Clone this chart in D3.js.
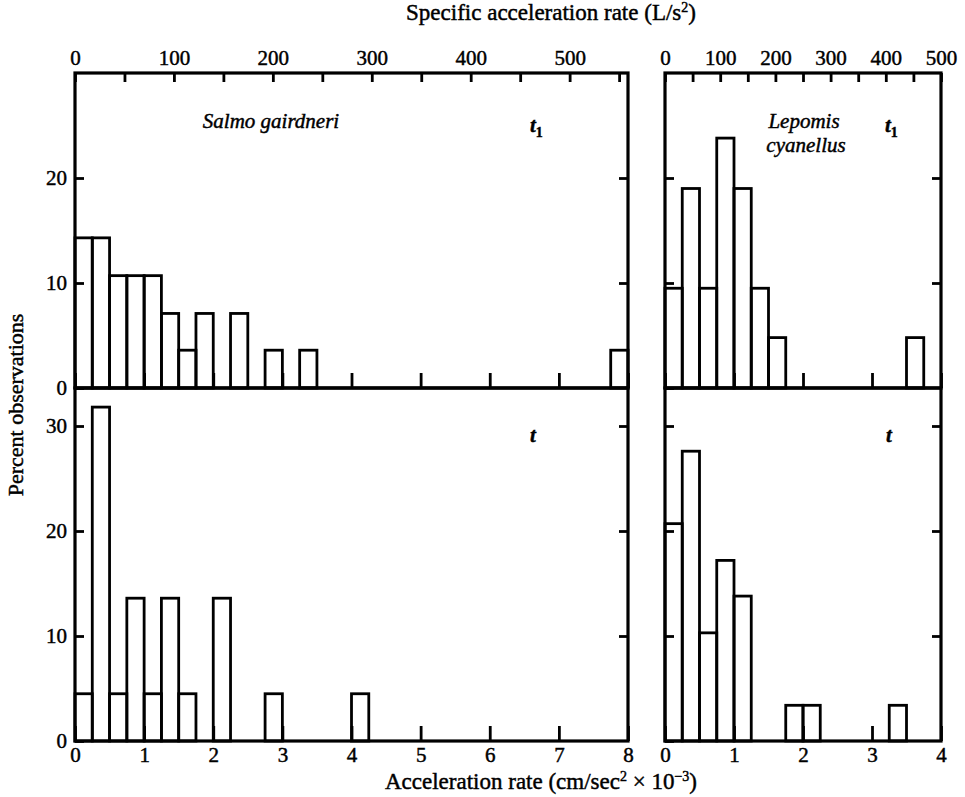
<!DOCTYPE html>
<html>
<head>
<meta charset="utf-8">
<script src="https://cdn.jsdelivr.net/npm/d3@7"></script>
<style>
  body { margin: 0; background: #fff; }
  text { font-family: "Liberation Serif", "Times New Roman", serif; fill: #000; stroke: #000; stroke-width: 0.45px; }
</style>
</head>
<body>
<svg id="chart" width="965" height="797"></svg>
<script>
// histogram bins are 0.25 (x 1000 cm/s^2) wide, starting at 0
const binWidth = 0.25

// percent observations per bin
const salmoT1 = [14.3, 14.3, 10.7, 10.7, 10.7, 7.1, 3.6, 7.1, 0, 7.1, 0, 3.6, 0, 3.6, 0, 0,
  0, 0, 0, 0, 0, 0, 0, 0, 0, 0, 0, 0, 0, 0, 0, 3.6]
const salmoT = [4.5, 31.8, 4.5, 13.6, 4.5, 13.6, 4.5, 0, 13.6, 0, 0, 4.5, 0, 0, 0, 0,
  4.5, 0, 0, 0, 0, 0, 0, 0, 0, 0, 0, 0, 0, 0, 0, 0]
const lepomisT1 = [9.5, 19.0, 9.5, 23.8, 19.0, 9.5, 4.8, 0, 0, 0, 0, 0, 0, 0, 4.8, 0]
const lepomisT = [20.7, 27.6, 10.3, 17.2, 13.8, 0, 0, 3.4, 3.4, 0, 0, 0, 0, 3.4, 0, 0]

const accelTicksLeft = [0, 1, 2, 3, 4, 5, 6, 7, 8]
const accelTicksRight = [0, 1, 2, 3, 4]
const percentTicks = [0, 10, 20, 30]

const svg = d3.select('#chart')

const xLeft = d3.scaleLinear().domain([0, 8]).range([75, 628])
const xRight = d3.scaleLinear().domain([0, 4]).range([665, 941])
// specific acceleration (L/s^2) on the top edge
const specLeft = d3.scaleLinear().domain([0, 559]).range([75, 628])
const specRight = d3.scaleLinear().domain([0, 500]).range([665, 941])
const yUpper = d3.scaleLinear().domain([0, 30]).range([388, 73])
const yLower = d3.scaleLinear().domain([0, 30]).range([741, 426])

const panels = [
  { x: xLeft, y: yUpper, top: 73, bottom: 388, values: salmoT1, ticks: accelTicksLeft, labelsX: false, labelsY: true },
  { x: xLeft, y: yLower, top: 388, bottom: 741, values: salmoT, ticks: accelTicksLeft, labelsX: true, labelsY: true },
  { x: xRight, y: yUpper, top: 73, bottom: 388, values: lepomisT1, ticks: accelTicksRight, labelsX: false, labelsY: false },
  { x: xRight, y: yLower, top: 388, bottom: 741, values: lepomisT, ticks: accelTicksRight, labelsX: true, labelsY: false }
]

function styleAxis(g) {
  g.select('.domain').remove()
  g.selectAll('.tick line').attr('stroke', '#000').attr('stroke-width', 2.8)
  g.selectAll('.tick text')
    .style('font-family', '"Liberation Serif", serif')
    .style('font-size', '21px')
    .attr('fill', '#000')
}

panels.forEach(p => {
  const [xa, xb] = p.x.range()
  const bins = p.values.map((v, i) => ({ x0: i * binWidth, v })).filter(d => d.v > 0)

  svg.append('g')
    .selectAll('rect')
    .data(bins)
    .join('rect')
    .attr('x', d => p.x(d.x0))
    .attr('width', d => p.x(d.x0 + binWidth) - p.x(d.x0))
    .attr('y', d => p.y(d.v))
    .attr('height', d => p.y(0) - p.y(d.v))
    .attr('fill', 'none')
    .attr('stroke', '#000')
    .attr('stroke-width', 2.8)

  // bottom edge ticks point up
  svg.append('g')
    .attr('transform', `translate(0,${p.bottom})`)
    .call(d3.axisBottom(p.x).tickValues(p.ticks).tickSize(-15).tickPadding(6)
      .tickFormat(p.labelsX ? d3.format('d') : () => ''))
    .call(styleAxis)

  const yTicks = percentTicks.filter(t => p.y(t) >= p.top + 1)
  svg.append('g')
    .attr('transform', `translate(${xa},0)`)
    .call(d3.axisLeft(p.y).tickValues(yTicks).tickSize(-9).tickPadding(8)
      .tickFormat(p.labelsY ? d3.format('d') : () => ''))
    .call(styleAxis)
  svg.append('g')
    .attr('transform', `translate(${xb},0)`)
    .call(d3.axisRight(p.y).tickValues(yTicks.filter(t => t > 0)).tickSize(-9).tickFormat(() => ''))
    .call(styleAxis)

  svg.append('rect')
    .attr('x', xa).attr('y', p.top)
    .attr('width', xb - xa).attr('height', p.bottom - p.top)
    .attr('fill', 'none').attr('stroke', '#000').attr('stroke-width', 3.2)
})

// top axis: specific acceleration rate
svg.append('g')
  .attr('transform', 'translate(0,73)')
  .call(d3.axisTop(specLeft).tickValues(d3.range(0, 559, 50)).tickSize(-9).tickPadding(8)
    .tickFormat(d => d % 100 === 0 ? d : ''))
  .call(styleAxis)
svg.append('g')
  .attr('transform', 'translate(0,73)')
  .call(d3.axisTop(specRight).tickValues(d3.range(0, 501, 50)).tickSize(-9).tickPadding(8)
    .tickFormat(d => d % 100 === 0 ? d : ''))
  .call(styleAxis)

// titles
const tt = svg.append('text')
  .attr('x', 551).attr('y', 20)
  .attr('text-anchor', 'middle')
  .style('font-size', '23px')
tt.append('tspan').text('Specific acceleration rate (L/s')
tt.append('tspan').attr('dy', -8).style('font-size', '14px').text('2')
tt.append('tspan').attr('dy', 8).text(')')

const xt = svg.append('text')
  .attr('x', 541).attr('y', 789)
  .attr('text-anchor', 'middle')
  .style('font-size', '23px')
xt.append('tspan').text('Acceleration rate (cm/sec')
xt.append('tspan').attr('dy', -8).style('font-size', '14px').text('2')
xt.append('tspan').attr('dy', 8).text(' \u00d7 10')
xt.append('tspan').attr('dy', -8).style('font-size', '14px').text('\u22123')
xt.append('tspan').attr('dy', 8).text(')')

svg.append('text')
  .attr('transform', 'translate(23,405) rotate(-90)')
  .attr('text-anchor', 'middle')
  .style('font-size', '22px')
  .text('Percent observations')

// panel annotations
function italic(x, y, str, anchor) {
  return svg.append('text')
    .attr('x', x).attr('y', y)
    .attr('text-anchor', anchor || 'middle')
    .style('font-size', '21px')
    .style('font-style', 'italic')
    .text(str)
}
function timeLabel(x, y, sub) {
  const t = italic(x, y, 't', 'start').style('font-weight', 'bold')
  if (sub) t.append('tspan').attr('dy', 5).style('font-size', '14px').style('font-style', 'normal').text(sub)
}

italic(271, 128, 'Salmo gairdneri')
timeLabel(530, 132, '1')
timeLabel(530, 442)
italic(804, 128, 'Lepomis')
italic(806, 152, 'cyanellus')
timeLabel(885, 132, '1')
timeLabel(886, 442)
</script>
</body>
</html>
